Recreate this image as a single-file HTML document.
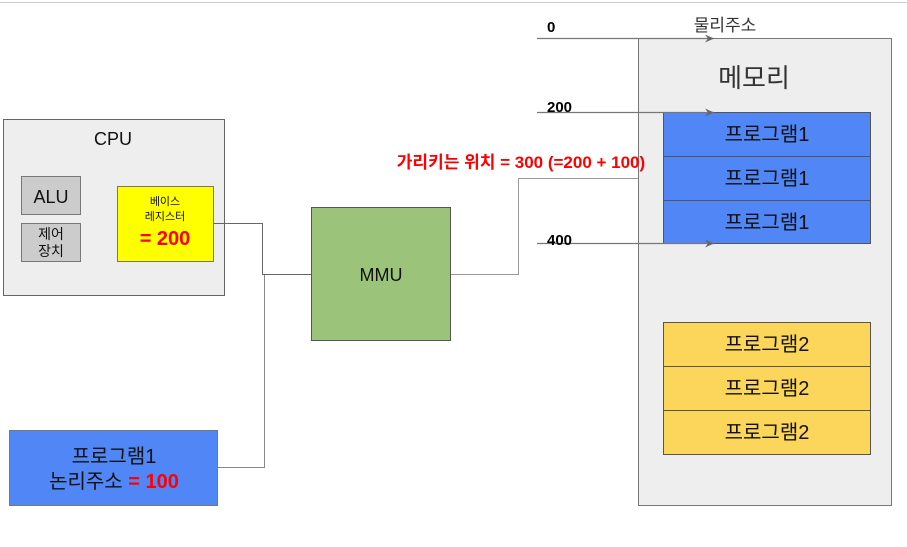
<!DOCTYPE html>
<html><head><meta charset="utf-8"><style>
html,body{margin:0;padding:0;background:#fff;}
svg{display:block;}
text{font-family:"Liberation Sans","Noto Sans CJK KR",sans-serif;}
</style></head><body>
<svg width="907" height="547" viewBox="0 0 907 547" xmlns="http://www.w3.org/2000/svg">
<defs><marker id="a" markerWidth="10" markerHeight="8" refX="9" refY="4" orient="auto" markerUnits="userSpaceOnUse"><path d="M0,0 L9,4 L0,8 L3,4 Z" fill="#666"/></marker></defs>
<line x1="0" y1="2.5" x2="907" y2="2.5" stroke="#ccc" stroke-width="1"/>
<!-- CPU -->
<rect x="3.5" y="119.5" width="221" height="176" fill="#eeeeee" stroke="#666"/>
<text x="113" y="145" font-size="18" text-anchor="middle" fill="#111">CPU</text>
<rect x="21.5" y="176.5" width="59" height="38" fill="#cccccc" stroke="#777"/>
<text x="51" y="203" font-size="18" text-anchor="middle" fill="#111">ALU</text>
<rect x="21.5" y="223.5" width="59" height="38" fill="#cccccc" stroke="#777"/>
<text x="51" y="239" font-size="14" text-anchor="middle" fill="#111">제어</text>
<text x="51" y="256" font-size="14" text-anchor="middle" fill="#111">장치</text>
<rect x="117.5" y="186.5" width="96" height="75" fill="#ffff00" stroke="#777"/>
<text x="165" y="205" font-size="11" text-anchor="middle" fill="#111">베이스</text>
<text x="165" y="220" font-size="11" text-anchor="middle" fill="#111">레지스터</text>
<text x="165" y="245" font-size="20" font-weight="bold" text-anchor="middle" fill="#f00">= 200</text>
<!-- connectors -->
<polyline points="213,223.5 262.5,223.5 262.5,274.5 311,274.5" fill="none" stroke="#666"/>
<polyline points="264.5,275 264.5,467.5 218,467.5" fill="none" stroke="#888"/>
<polyline points="450,274.5 518.5,274.5 518.5,178.5 663,178.5" fill="none" stroke="#999"/>
<!-- MMU -->
<rect x="311.5" y="207.5" width="139" height="133" fill="#9bc47a" stroke="#555"/>
<text x="381" y="281" font-size="18" text-anchor="middle" fill="#111">MMU</text>
<!-- Memory -->
<rect x="638.5" y="38.5" width="253" height="467" fill="#eeeeee" stroke="#777"/>
<text x="754" y="87" font-size="26" text-anchor="middle" fill="#333">메모리</text>
<g fill="#5086f5" stroke="#555">
<rect x="663.5" y="112.5" width="207" height="44"/>
<rect x="663.5" y="156.5" width="207" height="44"/>
<rect x="663.5" y="200.5" width="207" height="43"/>
</g>
<g font-size="20" text-anchor="middle" fill="#111">
<text x="767" y="141">프로그램1</text>
<text x="767" y="185">프로그램1</text>
<text x="767" y="229">프로그램1</text>
</g>
<g fill="#fbd65a" stroke="#555">
<rect x="663.5" y="322.5" width="207" height="44"/>
<rect x="663.5" y="366.5" width="207" height="44"/>
<rect x="663.5" y="410.5" width="207" height="44"/>
</g>
<g font-size="20" text-anchor="middle" fill="#111">
<text x="767" y="351">프로그램2</text>
<text x="767" y="395">프로그램2</text>
<text x="767" y="439">프로그램2</text>
</g>
<!-- arrows -->
<g stroke="#777" stroke-width="1.2">
<line x1="537" y1="38.5" x2="714" y2="38.5" marker-end="url(#a)"/>
<line x1="537" y1="112.5" x2="714" y2="112.5" marker-end="url(#a)"/>
<line x1="537" y1="243.5" x2="714" y2="243.5" marker-end="url(#a)"/>
</g>
<g font-size="15" font-weight="bold" fill="#000">
<text x="547" y="32">0</text>
<text x="547" y="112">200</text>
<text x="547" y="245">400</text>
</g>
<text x="725" y="31" font-size="17" text-anchor="middle" fill="#333">물리주소</text>
<text x="521" y="168" font-size="17" font-weight="bold" text-anchor="middle" fill="#f00">가리키는 위치 = 300 (=200 + 100)</text>
<!-- program1 logical -->
<rect x="9.5" y="430.5" width="208" height="75" fill="#5086f5" stroke="#777"/>
<text x="114" y="463" font-size="20" text-anchor="middle" fill="#111">프로그램1</text>
<text x="114" y="488" font-size="20" text-anchor="middle" fill="#111">논리주소 <tspan fill="#f00" font-weight="bold">= 100</tspan></text>
</svg>
</body></html>
